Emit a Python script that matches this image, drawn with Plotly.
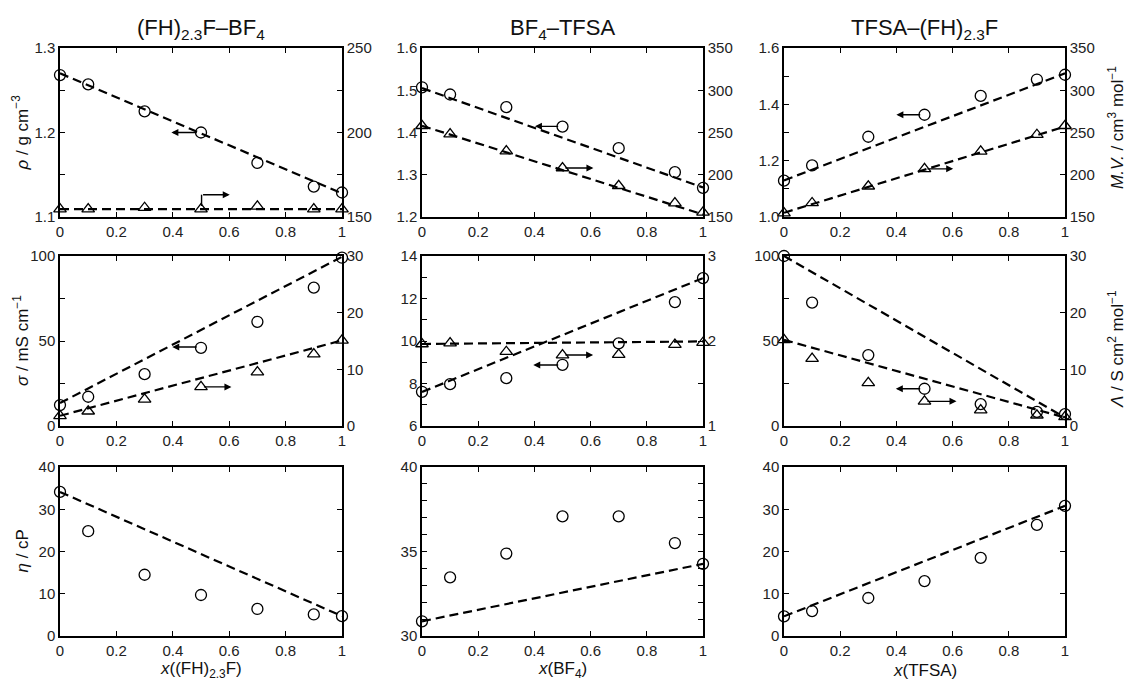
import plotly.graph_objects as go

# ---------------- data ----------------
x_frac = [0, 0.1, 0.3, 0.5, 0.7, 0.9, 1.0]
x_ends = [0, 1]

rho_FH_BF4 = [1.268, 1.257, 1.225, 1.200, 1.164, 1.136, 1.129]
mv_FH_BF4 = [154.7, 154.7, 155.5, 154.7, 156.3, 154.7, 154.7]
rho_FH_BF4_line = [1.270, 1.128]
mv_FH_BF4_line = [154.7, 154.7]

rho_BF4_TFSA = [1.507, 1.490, 1.460, 1.414, 1.363, 1.306, 1.269]
mv_BF4_TFSA = [258, 248, 228, 208, 187, 166.4, 155.5]
rho_BF4_TFSA_line = [1.505, 1.270]
mv_BF4_TFSA_line = [258, 153]

rho_TFSA_FH = [1.129, 1.183, 1.285, 1.363, 1.430, 1.488, 1.505]
mv_TFSA_FH = [154.7, 166.6, 186.4, 207, 227.7, 247.4, 258]
rho_TFSA_FH_line = [1.13, 1.51]
mv_TFSA_FH_line = [155, 257]

sig_FH_BF4 = [12.3, 17.2, 30.5, 46.0, 61.3, 81.4, 99.0]
lam_FH_BF4 = [1.8, 2.6, 4.7, 6.9, 9.5, 12.7, 15.1]
sig_FH_BF4_line = [13.5, 99.5]
lam_FH_BF4_line = [1.8, 15.1]

sig_BF4_TFSA = [7.61, 7.97, 8.25, 8.88, 9.89, 11.83, 12.96]
lam_BF4_TFSA = [1.965, 1.976, 1.874, 1.835, 1.839, 1.957, 1.98]
sig_BF4_TFSA_line = [7.6, 12.96]
lam_BF4_TFSA_line = [1.965, 1.995]

sig_TFSA_FH = [100, 72.6, 41.7, 21.9, 12.9, 8.3, 7.0]
lam_TFSA_FH = [15.2, 11.9, 7.6, 4.35, 2.8, 1.9, 1.6]
sig_TFSA_FH_line = [100, 5.0]
lam_TFSA_FH_line = [15.2, 1.5]

eta_FH_BF4 = [34.1, 24.8, 14.5, 9.7, 6.4, 5.1, 4.7]
eta_FH_BF4_line = [34.1, 4.7]
eta_BF4_TFSA = [30.87, 33.47, 34.88, 37.08, 37.08, 35.5, 34.27]
eta_BF4_TFSA_line = [30.87, 34.27]
eta_TFSA_FH = [4.65, 5.9, 9.0, 13.0, 18.5, 26.3, 30.8]
eta_TFSA_FH_line = [4.65, 30.8]

panel_titles = ["(FH)<sub>2.3</sub>F–BF<sub>4</sub>", "BF<sub>4</sub>–TFSA", "TFSA–(FH)<sub>2.3</sub>F"]
x_titles = ["<i>x</i>((FH)<sub>2.3</sub>F)", "<i>x</i>(BF<sub>4</sub>)", "<i>x</i>(TFSA)"]

# ---------------- layout geometry ----------------
W, H = 1129, 680
col_px = [(60, 342), (422, 703), (784, 1065)]
row_px = [(48, 217), (256, 426), (467, 636)]
FONT = "Arial, Liberation Sans, sans-serif"

def xd(c):
    return [col_px[c][0] / W, col_px[c][1] / W]

def yd(r):
    return [1 - row_px[r][1] / H, 1 - row_px[r][0] / H]

fig = go.Figure()
layout = {}

left_cfg = [
    dict(range=[1.1, 1.3], dtick=0.1, minor=0.05, fmt=".1f"),
    dict(range=[1.2, 1.6], dtick=0.1, minor=None, fmt=".1f"),
    dict(range=[1.0, 1.6], dtick=0.2, minor=0.1, fmt=".1f"),
    dict(range=[0, 100], dtick=50, minor=25, fmt=None),
    dict(range=[6, 14], dtick=2, minor=1, fmt=None),
    dict(range=[0, 100], dtick=50, minor=25, fmt=None),
    dict(range=[0, 40], dtick=10, minor=None, fmt=None),
    dict(range=[30, 40], dtick=5, minor=1, fmt=None),
    dict(range=[0, 40], dtick=10, minor=None, fmt=None),
]
right_cfg = [
    dict(range=[150, 250], dtick=50, minor=25),
    dict(range=[150, 350], dtick=50, minor=None),
    dict(range=[150, 350], dtick=50, minor=None),
    dict(range=[0, 30], dtick=10, minor=None),
    dict(range=[1, 3], dtick=1, minor=0.5),
    dict(range=[0, 30], dtick=10, minor=None),
]

tickfont = dict(family=FONT, size=15, color="#222")

def minor_dict(d):
    if d is None:
        return None
    return dict(dtick=d, ticks="inside", ticklen=5, tickwidth=1.2, tickcolor="black", showgrid=False)

for p in range(9):
    r, c = divmod(p, 3)
    xn = "xaxis" if p == 0 else f"xaxis{p+1}"
    yn = "yaxis" if p == 0 else f"yaxis{p+1}"
    xr = "x" if p == 0 else f"x{p+1}"
    yr = "y" if p == 0 else f"y{p+1}"
    layout[xn] = dict(domain=xd(c), anchor=yr, range=[0, 1], dtick=0.2, tick0=0,
                      ticks="inside", ticklen=5, tickwidth=1.2, tickcolor="black",
                      showline=True, linewidth=1.5, linecolor="black", mirror="ticks",
                      showgrid=False, zeroline=False, tickfont=tickfont, automargin=False)
    lc = left_cfg[p]
    ycfg = dict(domain=yd(r), anchor=xr, range=lc["range"], dtick=lc["dtick"], tick0=lc["range"][0],
                ticks="inside", ticklen=5, tickwidth=1.2, tickcolor="black",
                showline=True, linewidth=1.5, linecolor="black",
                mirror="ticks" if p >= 6 else False, automargin=False,
                showgrid=False, zeroline=False, tickfont=tickfont)
    if lc["fmt"]:
        ycfg["tickformat"] = lc["fmt"]
    if lc["minor"]:
        ycfg["minor"] = minor_dict(lc["minor"])
    layout[yn] = ycfg
    if p < 6:
        rc = right_cfg[p]
        y2 = dict(overlaying=yr, side="right", anchor=xr, range=rc["range"], dtick=rc["dtick"],
                  tick0=rc["range"][0], ticks="inside", ticklen=5, tickwidth=1.2, tickcolor="black",
                  showline=True, linewidth=1.5, linecolor="black", automargin=False,
                  showgrid=False, zeroline=False, tickfont=tickfont)
        if rc["minor"]:
            y2["minor"] = minor_dict(rc["minor"])
        layout[f"yaxis{10+p}"] = y2

left_series = [rho_FH_BF4, rho_BF4_TFSA, rho_TFSA_FH, sig_FH_BF4, sig_BF4_TFSA, sig_TFSA_FH,
               eta_FH_BF4, eta_BF4_TFSA, eta_TFSA_FH]
left_lines = [rho_FH_BF4_line, rho_BF4_TFSA_line, rho_TFSA_FH_line, sig_FH_BF4_line, sig_BF4_TFSA_line,
              sig_TFSA_FH_line, eta_FH_BF4_line, eta_BF4_TFSA_line, eta_TFSA_FH_line]
right_series = [mv_FH_BF4, mv_BF4_TFSA, mv_TFSA_FH, lam_FH_BF4, lam_BF4_TFSA, lam_TFSA_FH]
right_lines = [mv_FH_BF4_line, mv_BF4_TFSA_line, mv_TFSA_FH_line, lam_FH_BF4_line, lam_BF4_TFSA_line,
               lam_TFSA_FH_line]

DASH = "9px,5px"
for p in range(9):
    xr = "x" if p == 0 else f"x{p+1}"
    yr = "y" if p == 0 else f"y{p+1}"
    fig.add_trace(go.Scatter(x=x_ends, y=left_lines[p], xaxis=xr, yaxis=yr, mode="lines",
                             line=dict(color="black", width=2.2, dash=DASH), showlegend=False,
                             cliponaxis=False))
    fig.add_trace(go.Scatter(x=x_frac, y=left_series[p], xaxis=xr, yaxis=yr, mode="markers",
                             marker=dict(symbol="circle-open", size=11, color="black",
                                         line=dict(width=1.3, color="black")),
                             showlegend=False, cliponaxis=False))
    if p < 6:
        y2 = f"y{10+p}"
        fig.add_trace(go.Scatter(x=x_ends, y=right_lines[p], xaxis=xr, yaxis=y2, mode="lines",
                                 line=dict(color="black", width=2.2, dash=DASH), showlegend=False,
                                 cliponaxis=False))
        fig.add_trace(go.Scatter(x=x_frac, y=right_series[p], xaxis=xr, yaxis=y2, mode="markers",
                                 marker=dict(symbol="triangle-up-open", size=11, color="black",
                                             line=dict(width=1.3, color="black")),
                                 showlegend=False, cliponaxis=False))

annotations = []
shapes = []

def arrow(xref, yref, tail, tip):
    annotations.append(dict(xref=xref, yref=yref, axref=xref, ayref=yref,
                            x=tip[0], y=tip[1], ax=tail[0], ay=tail[1], text="",
                            showarrow=True, arrowhead=2, arrowsize=1, arrowwidth=1.4,
                            arrowcolor="black", standoff=0, startstandoff=0))

left_arrows = [(1.200, 0.395), (1.4146, 0.402), (1.363, 0.40), (46.5, 0.398), (8.87, 0.396), (21.9, 0.398)]
for p, (yv, xt) in enumerate(left_arrows):
    xr = "x" if p == 0 else f"x{p+1}"
    yr = "y" if p == 0 else f"y{p+1}"
    arrow(xr, yr, (0.49, yv), (xt, yv))

right_arrows = {1: (208, 0.61), 2: (207, 0.602), 3: (6.9, 0.608), 4: (1.835, 0.609), 5: (4.35, 0.614)}
for p, (yv, xt) in right_arrows.items():
    xr = f"x{p+1}"
    arrow(xr, f"y{10+p}", (0.505, yv), (xt, yv))

shapes.append(dict(type="line", xref="x", yref="y10", x0=0.502, x1=0.502, y0=156.5, y1=163.2,
                   line=dict(color="black", width=1.4)))
arrow("x", "y10", (0.502, 163.2), (0.602, 163.2))

for c in range(3):
    cx = (col_px[c][0] + col_px[c][1]) / 2 / W
    annotations.append(dict(xref="paper", yref="paper", x=cx, y=1 - 29 / H, text=panel_titles[c],
                            showarrow=False, font=dict(family=FONT, size=22, color="#111"),
                            xanchor="center", yanchor="middle"))
    annotations.append(dict(xref="paper", yref="paper", x=cx, y=1 - 670 / H, text=x_titles[c],
                            showarrow=False, font=dict(family=FONT, size=17, color="#111"),
                            xanchor="center", yanchor="middle"))

ytitles = [
    (21, (48 + 217) / 2, "<i>ρ</i> / g cm<sup>−3</sup>"),
    (21, (256 + 426) / 2, "<i>σ</i> / mS cm<sup>−1</sup>"),
    (22, (467 + 636) / 2, "<i>η</i> / cP"),
    (1116, 128, "<i>M.V.</i> / cm<sup>3</sup> mol<sup>−1</sup>"),
    (1116, 349, "<i>Λ</i> / S cm<sup>2</sup> mol<sup>−1</sup>"),
]
for xpx, ypx, t in ytitles:
    annotations.append(dict(xref="paper", yref="paper", x=xpx / W, y=1 - ypx / H, text=t,
                            showarrow=False, textangle=-90, font=dict(family=FONT, size=17, color="#111"),
                            xanchor="center", yanchor="middle"))

fig.update_layout(**layout)
fig.update_layout(template="none", width=W, height=H, autosize=False, margin=dict(l=0, r=0, t=0, b=0, pad=0),
                  plot_bgcolor="white", paper_bgcolor="white",
                  font=dict(family=FONT, color="#111"),
                  annotations=annotations, shapes=shapes, showlegend=False)

fig.write_html("out.html", config={"displayModeBar": False},
               post_script="document.body.style.margin='0';document.body.style.padding='0';document.documentElement.style.overflow='hidden';")
